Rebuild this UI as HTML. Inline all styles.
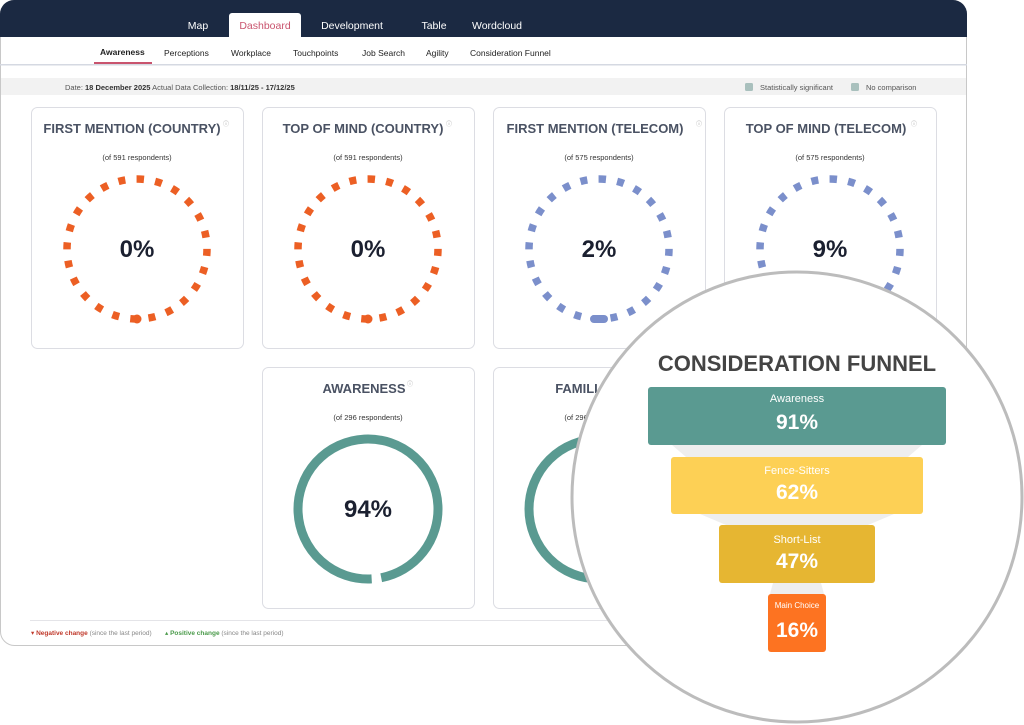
<!DOCTYPE html>
<html><head><meta charset="utf-8"><style>
html,body{margin:0;padding:0;background:#fff;width:1024px;height:725px;overflow:hidden;font-family:"Liberation Sans",sans-serif}
</style></head><body>
<svg width="1024" height="725" viewBox="0 0 1024 725" xmlns="http://www.w3.org/2000/svg" font-family="Liberation Sans, sans-serif">
<rect x="0.5" y="0.5" width="966" height="645" rx="14" fill="#fff" stroke="#c8c8c8"/>
<path d="M0 14 A14 14 0 0 1 14 0 H953 A14 14 0 0 1 967 14 V37 H0 Z" fill="#1b2942"/>
<path d="M229 37 V16 A3 3 0 0 1 232 13 H298 A3 3 0 0 1 301 16 V37 Z" fill="#fff"/>
<g font-size="10.5" fill="#fff" text-anchor="middle">
<text x="198" y="29">Map</text>
<text x="265" y="29" fill="#c9546e">Dashboard</text>
<text x="352" y="29">Development</text>
<text x="434" y="29">Table</text>
<text x="497" y="29">Wordcloud</text>
</g>
<g font-size="8.5" fill="#222">
<text x="100" y="55" font-weight="bold">Awareness</text>
<text x="164" y="56">Perceptions</text>
<text x="231" y="56">Workplace</text>
<text x="293" y="56">Touchpoints</text>
<text x="362" y="56">Job Search</text>
<text x="426" y="56">Agility</text>
<text x="470" y="56">Consideration Funnel</text>
</g>
<rect x="94" y="62" width="58" height="3" fill="#c9546e"/>
<rect x="0" y="64" width="967" height="1.5" fill="#d5d9e2"/>
<rect x="1" y="78" width="965" height="17" fill="#f2f2f2"/>
<g font-size="7.5" fill="#555">
<text x="65" y="90">Date: <tspan font-weight="bold" fill="#333">18 December 2025</tspan>  Actual Data Collection: <tspan font-weight="bold" fill="#333">18/11/25 - 17/12/25</tspan></text>
<rect x="745" y="83" width="8" height="8" rx="1.5" fill="#a9c0bd"/>
<text x="760" y="90">Statistically significant</text>
<rect x="851" y="83" width="8" height="8" rx="1.5" fill="#a9c0bd"/>
<text x="866" y="90">No comparison</text>
</g>
<g fill="#fff" stroke="#dcdde3">
<rect x="31.5" y="107.5" width="212" height="241" rx="6"/>
<rect x="262.5" y="107.5" width="212" height="241" rx="6"/>
<rect x="493.5" y="107.5" width="212" height="241" rx="6"/>
<rect x="724.5" y="107.5" width="212" height="241" rx="6"/>
<rect x="262.5" y="367.5" width="212" height="241" rx="6"/>
<rect x="493.5" y="367.5" width="212" height="241" rx="6"/>
</g>
<g font-size="13" font-weight="bold" fill="#4a5263" text-anchor="middle">
<text x="132" y="133">FIRST MENTION (COUNTRY)</text>
<text x="363" y="133">TOP OF MIND (COUNTRY)</text>
<text x="595" y="133">FIRST MENTION (TELECOM)</text>
<text x="826" y="133">TOP OF MIND (TELECOM)</text>
<text x="364" y="393">AWARENESS</text>
<text x="596" y="393">FAMILIARITY</text>
</g>
<g font-size="6" fill="#999"><text x="223" y="126">ⓘ</text><text x="446" y="126">ⓘ</text><text x="696" y="126">ⓘ</text><text x="911" y="126">ⓘ</text><text x="407" y="386">ⓘ</text></g>
<g font-size="7.5" fill="#333" text-anchor="middle">
<text x="137" y="160">(of 591 respondents)</text>
<text x="368" y="160">(of 591 respondents)</text>
<text x="599" y="160">(of 575 respondents)</text>
<text x="830" y="160">(of 575 respondents)</text>
<text x="368" y="420">(of 296 respondents)</text>
<text x="599" y="420">(of 296 respondents)</text>
</g>
<g fill="none" stroke-width="7.5" stroke-dasharray="7 11.3">
<circle cx="137" cy="249" r="70" stroke="#ec5f24" transform="rotate(-90 137 249)"/>
<circle cx="368" cy="249" r="70" stroke="#ec5f24" transform="rotate(-90 368 249)"/>
<circle cx="599" cy="249" r="70" stroke="#7b8fcb" transform="rotate(-90 599 249)"/>
<circle cx="830" cy="249" r="70" stroke="#7b8fcb" transform="rotate(-90 830 249)"/>
</g>
<circle cx="137" cy="319" r="4.5" fill="#ec5f24"/><circle cx="368" cy="319" r="4.5" fill="#ec5f24"/>
<rect x="590" y="315" width="18" height="8" rx="4" fill="#7b8fcb"/>
<circle cx="368" cy="509" r="70" fill="none" stroke="#5a9a91" stroke-width="9" stroke-dasharray="430 10" transform="rotate(87 368 509)"/>
<circle cx="599" cy="509" r="70" fill="none" stroke="#5a9a91" stroke-width="9"/>
<g font-size="24" font-weight="bold" fill="#1b2030" text-anchor="middle">
<text x="137" y="257">0%</text><text x="368" y="257">0%</text><text x="599" y="257">2%</text><text x="830" y="257">9%</text><text x="368" y="517">94%</text>
</g>
<rect x="30" y="620" width="910" height="1" fill="#e4e4e8"/>
<g font-size="6.5">
<text x="31" y="635" fill="#c0392b">▾ <tspan font-weight="bold">Negative change</tspan> <tspan fill="#888">(since the last period)</tspan></text>
<text x="165" y="635" fill="#4a9a4a">▴ <tspan font-weight="bold">Positive change</tspan> <tspan fill="#888">(since the last period)</tspan></text>
</g>
<circle cx="797" cy="497" r="225" fill="#fff" stroke="#bcbcbc" stroke-width="3"/>
<text x="797" y="371" font-size="22" font-weight="bold" fill="#444" text-anchor="middle">CONSIDERATION FUNNEL</text>
<path d="M672 445 H922 L908 457 H686 Z" fill="#eeeeee"/>
<path d="M700 514 H894 L868 525 H726 Z" fill="#eeeeee"/>
<path d="M773 583 H821 L824 594 H770 Z" fill="#eeeeee"/>
<rect x="648" y="387" width="298" height="58" rx="3" fill="#5a9a91"/>
<rect x="671" y="457" width="252" height="57" rx="3" fill="#fdd055"/>
<rect x="719" y="525" width="156" height="58" rx="3" fill="#e6b632"/>
<rect x="768" y="594" width="58" height="58" rx="3" fill="#fd7321"/>
<g fill="#fff" text-anchor="middle">
<text x="797" y="402" font-size="11">Awareness</text>
<text x="797" y="429" font-size="21" font-weight="bold">91%</text>
<text x="797" y="474" font-size="11">Fence-Sitters</text>
<text x="797" y="499" font-size="21" font-weight="bold">62%</text>
<text x="797" y="543" font-size="11">Short-List</text>
<text x="797" y="568" font-size="21" font-weight="bold">47%</text>
<text x="797" y="608" font-size="8">Main Choice</text>
<text x="797" y="637" font-size="21" font-weight="bold">16%</text>
</g>
</svg>
</body></html>
